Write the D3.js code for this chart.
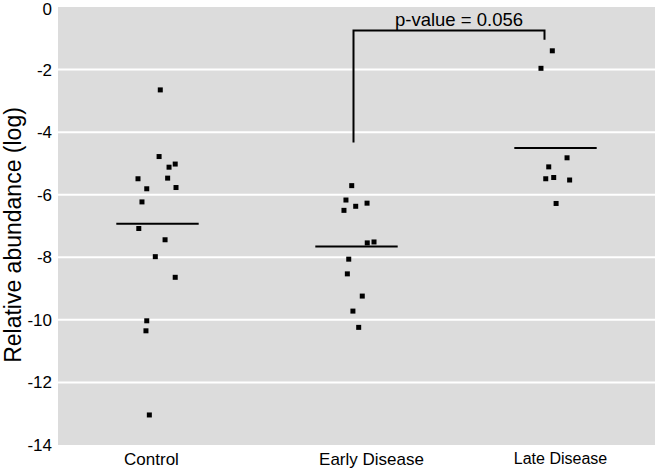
<!DOCTYPE html>
<html><head><meta charset="utf-8">
<script src="https://cdn.jsdelivr.net/npm/d3@7"></script>
<style>body{margin:0;background:#fff}svg{display:block}text{font-family:"Liberation Sans",Arial,Helvetica,sans-serif;fill:#000}</style>
</head><body>
<svg id="c" width="655" height="469"></svg>
<script>
const categories = ["Control", "Early Disease", "Late Disease"];
const controlValues = [-2.65, -4.78, -5.02, -5.12, -5.49, -5.47, -5.81, -5.77, -6.23, -7.08, -7.44, -7.98, -8.64, -10.03, -10.35, -13.04];
const earlyValues = [-5.71, -6.17, -6.27, -6.37, -6.50, -7.54, -7.51, -8.06, -8.53, -9.24, -9.72, -10.24];
const lateValues = [-1.40, -1.96, -4.82, -5.11, -5.49, -5.45, -5.53, -6.28];
// horizontal jitter, percent of category band width
const controlJitter = [1.4, 0.8, 8.9, 5.8, -9.8, 5.1, -5.4, 9.3, -7.8, -9.4, 3.8, -1.1, 8.9, -5.4, -5.8, -4.1];
const earlyJitter = [-2.4, -5.3, 5.3, -0.4, -6.3, 5.4, 8.8, -3.9, -4.6, 2.9, -1.8, 1.1];
const lateJitter = [-1.6, -7.3, 5.8, -3.4, -4.9, -0.9, 7.1, 0.3];
const yTicks = [0, -2, -4, -6, -8, -10, -12, -14];
const yTitle = "Relative abundance (log)";
const pLabel = "p-value = 0.056";
const bracketTop = -0.75, bracketLeftBottom = -4.33, bracketRightBottom = -1.05;

const groups = [
  {cat: categories[0], values: controlValues, jitter: controlJitter},
  {cat: categories[1], values: earlyValues, jitter: earlyJitter},
  {cat: categories[2], values: lateValues, jitter: lateJitter}
];

const svg = d3.select("#c");
const L = 58, R = 655, T = 7, B = 445;
const x = d3.scaleBand().domain(categories).range([L, R]);
const y = d3.scaleLinear().domain([-14, 0]).range([B, T]);
const bw = x.bandwidth();
const jx = d3.scaleLinear().domain([-100, 100]).range([-bw, bw]);
const cx = c => x(c) + bw / 2;

svg.append("rect").attr("x", L).attr("y", T).attr("width", R - L).attr("height", B - T).attr("fill", "#dcdcdc");

svg.append("g").selectAll("line").data(yTicks.filter(t => t !== 0 && t !== -14)).join("line")
  .attr("x1", L).attr("x2", R).attr("y1", d => y(d)).attr("y2", d => y(d))
  .attr("stroke", "#fff").attr("stroke-width", 2);

// y axis
const ya = svg.append("g").attr("transform", `translate(${L},0)`)
  .call(d3.axisLeft(y).tickValues(yTicks).tickSize(0).tickPadding(6).tickFormat(d => String(d)));
ya.select(".domain").remove();
ya.selectAll("text").attr("font-size", 17).style("font-family", "'Liberation Sans',Arial,sans-serif").attr("fill", "#000")
  .attr("dy", d => d === 0 ? "0.45em" : "0.32em");

// x axis
const labelShift = {"Control": -6, "Early Disease": 15, "Late Disease": 5};
const xa = svg.append("g").attr("transform", `translate(0,${B})`)
  .call(d3.axisBottom(x).tickSize(0).tickPadding(8));
xa.select(".domain").remove();
xa.selectAll("text").style("font-family", "'Liberation Sans',Arial,sans-serif").attr("fill", "#000")
  .attr("font-size", d => d === "Late Disease" ? 16 : 17)
  .attr("dx", d => labelShift[d]);

svg.append("text").attr("transform", `translate(21,235) rotate(-90)`)
  .attr("text-anchor", "middle").attr("font-size", 23).text(yTitle);

// means
svg.append("g").selectAll("line").data(groups).join("line")
  .attr("x1", d => cx(d.cat) - bw * 0.207).attr("x2", d => cx(d.cat) + bw * 0.207)
  .attr("y1", d => y(d3.mean(d.values))).attr("y2", d => y(d3.mean(d.values)))
  .attr("stroke", "#000").attr("stroke-width", 2);

// points
const pts = groups.flatMap(g => g.values.map((v, i) => ({cat: g.cat, v, j: g.jitter[i]})));
const s = 5;
svg.append("g").selectAll("rect").data(pts).join("rect")
  .attr("x", d => cx(d.cat) + jx(d.j) - s / 2).attr("y", d => y(d.v) - s / 2)
  .attr("width", s).attr("height", s).attr("fill", "#000");

// bracket
const bxL = cx(categories[1]) - 3, bxR = cx(categories[2]) - 11;
svg.append("path")
  .attr("d", d3.line()([[bxL, y(bracketLeftBottom)], [bxL, y(bracketTop)], [bxR, y(bracketTop)], [bxR, y(bracketRightBottom)]]))
  .attr("fill", "none").attr("stroke", "#000").attr("stroke-width", 2);
svg.append("text").attr("x", (bxL + bxR) / 2 + 10).attr("y", y(bracketTop) - 4)
  .attr("text-anchor", "middle").attr("font-size", 18.5).text(pLabel);
</script>
</body></html>
